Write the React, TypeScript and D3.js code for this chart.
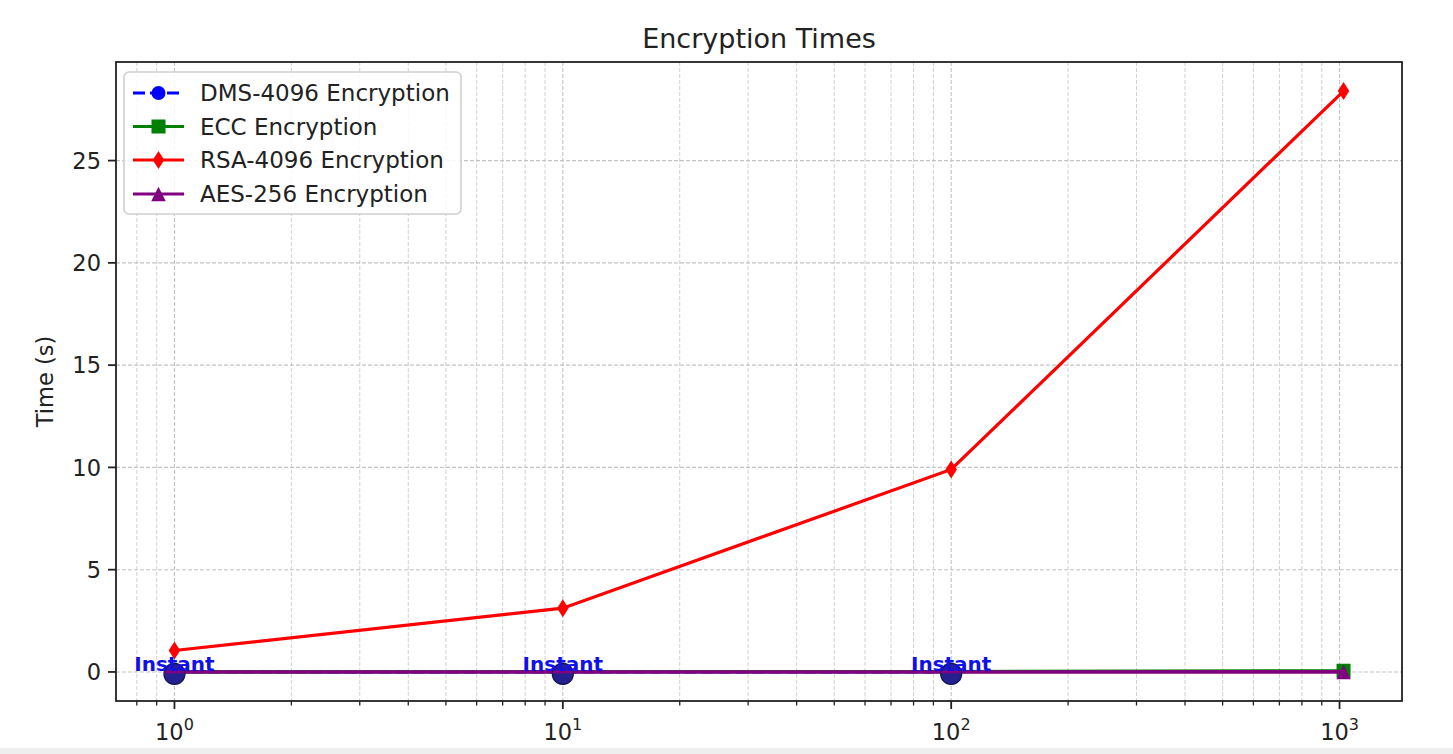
import React from "react";
import * as d3 from "d3";

const xValues = [1, 10, 100, 1024];
const dmsX = [1, 10, 100];
const dmsValues = [0, 0, 0];
const eccValues = [0.005, 0.01, 0.02, 0.06];
const rsaValues = [1.05, 3.12, 9.9, 28.4];
const aesValues = [0, 0, 0.001, 0.003];
const yTicks = [0, 5, 10, 15, 20, 25];
const majorX = [1, 10, 100, 1000];
const legendLabels = ["DMS-4096 Encryption", "ECC Encryption", "RSA-4096 Encryption", "AES-256 Encryption"];
const annotationText = "Instant";

const W = 1453;
const H = 754;
const L = 116, R = 1402, T = 62, B = 701;
const FONT = "DejaVu Sans, sans-serif";
const FS = 22.5;

export default function App() {
  const allX = xValues;
  const lx0 = Math.log10(d3.min(allX)!), lx1 = Math.log10(d3.max(allX)!);
  const mx = (lx1 - lx0) * 0.05;
  const x = d3.scaleLog().domain([Math.pow(10, lx0 - mx), Math.pow(10, lx1 + mx)]).range([L, R]);
  const yMax = d3.max(rsaValues)!;
  const yMin = 0;
  const my = (yMax - yMin) * 0.05;
  const y = d3.scaleLinear().domain([yMin - my, yMax + my]).range([B, T]);

  const line = d3.line<[number, number]>().x(d => x(d[0])).y(d => y(d[1]));
  const allTicks = x.ticks();
  const minorTicks = allTicks.filter(t => Math.abs(Math.log10(t) - Math.round(Math.log10(t))) > 1e-9);

  const pts = (xs: number[], ys: number[]) => xs.map((v, i) => [v, ys[i]] as [number, number]);

  const diamond = (cx: number, cy: number, w = 11.5, h = 18) => `M${cx},${cy - h / 2}L${cx + w / 2},${cy}L${cx},${cy + h / 2}L${cx - w / 2},${cy}Z`;
  const tri = (cx: number, cy: number, s = 14.5) => `M${cx},${cy - s / 2}L${cx + s / 2},${cy + s / 2}L${cx - s / 2},${cy + s / 2}Z`;

  const legendRows = [93, 126.5, 160, 194];

  return (
    <div style={{ position: "absolute", left: 0, top: 0, width: W, height: H, background: "#fff" }}>
      <svg width={W} height={H} style={{ display: "block" }} fontFamily={FONT}>
        <rect x={0} y={0} width={W} height={H} fill="#fff" />
        <rect x={0} y={748} width={W} height={6} fill="#eeeeee" />
        {/* grid */}
        <g>
          {minorTicks.map((t, i) => (
            <line key={"mg" + i} x1={x(t)} x2={x(t)} y1={T} y2={B} stroke="#d0d0d0" strokeWidth={1} strokeDasharray="4,2" />
          ))}
          {majorX.map((t, i) => (
            <line key={"Mg" + i} x1={x(t)} x2={x(t)} y1={T} y2={B} stroke="#c4c4c4" strokeWidth={1.1} strokeDasharray="4,2" />
          ))}
          {yTicks.map((t, i) => (
            <line key={"yg" + i} x1={L} x2={R} y1={y(t)} y2={y(t)} stroke="#c4c4c4" strokeWidth={1.1} strokeDasharray="4,2" />
          ))}
        </g>
        {/* DMS */}
        <path d={line(pts(dmsX, dmsValues))!} fill="none" stroke="blue" strokeWidth={3.2} strokeDasharray="12,5" />
        {dmsX.map((v, i) => (
          <circle key={"dm" + i} cx={x(v)} cy={y(dmsValues[i])} r={7} fill="blue" />
        ))}
        {/* ECC */}
        <path d={line(pts(xValues, eccValues))!} fill="none" stroke="green" strokeWidth={3.2} />
        {xValues.map((v, i) => (
          <rect key={"ec" + i} x={x(v) - 7} y={y(eccValues[i]) - 7} width={14} height={14} fill="green" />
        ))}
        {/* RSA */}
        <path d={line(pts(xValues, rsaValues))!} fill="none" stroke="red" strokeWidth={3.2} />
        {xValues.map((v, i) => (
          <path key={"rs" + i} d={diamond(x(v), y(rsaValues[i]))} fill="red" />
        ))}
        {/* AES */}
        <path d={line(pts(xValues, aesValues))!} fill="none" stroke="purple" strokeWidth={3.6} />
        {xValues.map((v, i) => (
          <path key={"ae" + i} d={tri(x(v), y(aesValues[i]))} fill="purple" />
        ))}
        {/* big circles & annotations */}
        {dmsX.map((v, i) => (
          <circle key={"bc" + i} cx={x(v)} cy={y(dmsValues[i]) + 2} r={10.5} fill="#24208f" stroke="#15124f" strokeWidth={1.2} />
        ))}
        {dmsX.map((v, i) => (
          <line key={"bl" + i} x1={x(v) - 10} x2={x(v) + 10} y1={y(aesValues[i])} y2={y(aesValues[i])} stroke="purple" strokeWidth={3} />
        ))}
        {dmsX.map((v, i) => (
          <text key={"an" + i} x={x(v)} y={y(dmsValues[i]) - 1} textAnchor="middle" fontWeight="bold" fontSize={20} fill="#1010e8">{annotationText}</text>
        ))}
        {/* spines */}
        <rect x={L} y={T} width={R - L} height={B - T} fill="none" stroke="#222" strokeWidth={1.8} />
        {/* x ticks */}
        {minorTicks.map((t, i) => (
          <line key={"mt" + i} x1={x(t)} x2={x(t)} y1={B} y2={B + 4.5} stroke="#222" strokeWidth={1.3} />
        ))}
        {majorX.map((t, i) => (
          <g key={"xt" + i}>
            <line x1={x(t)} x2={x(t)} y1={B} y2={B + 8} stroke="#222" strokeWidth={1.8} />
            <text x={x(t)} y={740} textAnchor="middle" fontSize={FS} fill="#222">
              10<tspan fontSize={16} dy={-10}>{Math.round(Math.log10(t))}</tspan>
            </text>
          </g>
        ))}
        {/* y ticks */}
        {yTicks.map((t, i) => (
          <g key={"yt" + i}>
            <line x1={L - 8} x2={L} y1={y(t)} y2={y(t)} stroke="#222" strokeWidth={1.8} />
            <text x={101} y={y(t)} dy="0.36em" textAnchor="end" fontSize={FS} fill="#222">{t}</text>
          </g>
        ))}
        <text transform={`translate(53,${(T + B) / 2}) rotate(-90)`} textAnchor="middle" fontSize={FS} fill="#222">Time (s)</text>
        <text x={(L + R) / 2} y={48} textAnchor="middle" fontSize={27} fill="#222">Encryption Times</text>
        {/* legend */}
        <g>
          <rect x={124} y={72} width={337} height={142} rx={5} fill="#fff" fillOpacity={0.85} stroke="#d0d0d0" strokeWidth={1.6} />
          {legendLabels.map((lab, i) => {
            const cy = legendRows[i];
            const colors = ["blue", "green", "red", "purple"];
            const c = colors[i];
            return (
              <g key={"lg" + i}>
                <line x1={133} x2={184} y1={cy} y2={cy} stroke={c} strokeWidth={3.2} strokeDasharray={i === 0 ? "12,5" : undefined} />
                {i === 0 && <circle cx={158.5} cy={cy} r={7} fill={c} />}
                {i === 1 && <rect x={151.5} y={cy - 7} width={14} height={14} fill={c} />}
                {i === 2 && <path d={diamond(158.5, cy)} fill={c} />}
                {i === 3 && <path d={tri(158.5, cy)} fill={c} />}
                <text x={200} y={cy} dy="0.36em" fontSize={23} fill="#222">{lab}</text>
              </g>
            );
          })}
        </g>
      </svg>
    </div>
  );
}
